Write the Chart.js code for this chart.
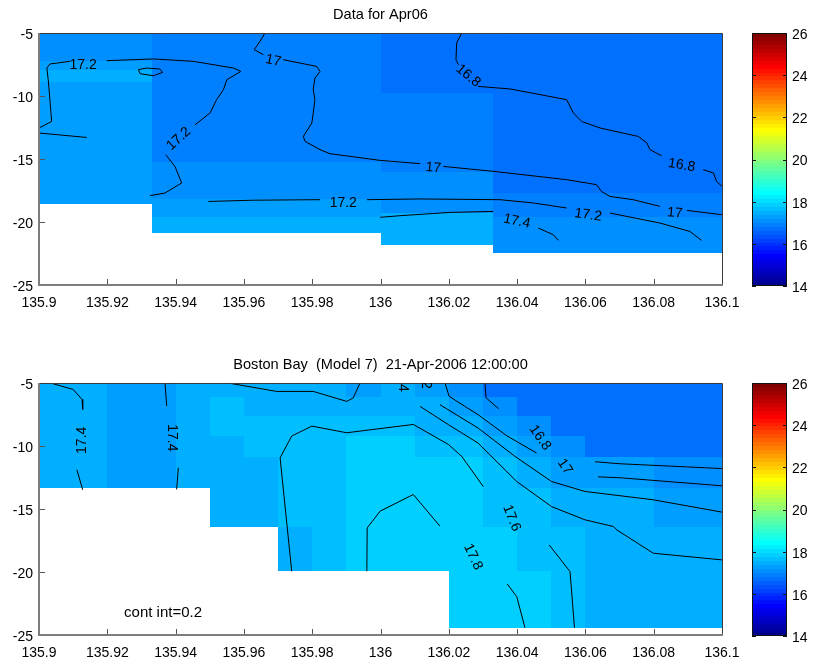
<!DOCTYPE html>
<html><head><meta charset="utf-8">
<script src="https://cdn.jsdelivr.net/npm/chart.js@4.4.0/dist/chart.umd.min.js"></script>
<style>
html,body{margin:0;padding:0;background:#fff;}
#wrap{position:relative;width:813px;height:666px;overflow:hidden;background:#fff;}
canvas{position:absolute;}
</style></head><body>
<div id="wrap">
<canvas id="c1" width="813" height="320" style="left:0;top:0"></canvas>
<canvas id="c2" width="813" height="336" style="left:0;top:330px"></canvas>
<canvas id="cb1" width="73" height="320" style="left:740px;top:0"></canvas>
<canvas id="cb2" width="73" height="336" style="left:740px;top:330px"></canvas>
</div>
<script>
// ---------------- DATA ----------------
const title1 = 'Data for Apr06';
const title2 = 'Boston Bay  (Model 7)  21-Apr-2006 12:00:00';
const contourNote = 'cont int=0.2';
const contourNotePos = [135.9249, -23.25];

const lonMin = 135.9, lonMax = 136.1, lonStep = 0.02;
const depthMin = -25, depthMax = -5, depthStep = 5;
const tempMin = 14, tempMax = 26, tempStep = 2, tempLevels = 64;

// Panel 1: observed temperature cells (column edges, per-column depth edges, per-column values)
const obsLonEdges = [135.9, 135.933, 136.0, 136.033, 136.1];
const obsDepthEdges = [
  [-5, -7.2, -7.9, -8.85, -18.55],
  [-5, -15.2, -18.2, -19.6, -20.85],
  [-5, -9.75, -16.0, -19.25, -21.8],
  [-5, -17.7, -19.6, -22.45]
];
const obsTemps = [
  [17.1, 17.3, 17.45, 17.3],
  [16.95, 17.05, 17.25, 17.45],
  [16.75, 16.95, 17.1, 17.45],
  [16.75, 16.95, 17.1]
];

// Panel 1 contour segments [lon, depth]
const obsContours = [
  [[135.9,-12.54],[135.9037,-12.02],[135.9032,-10.29],[135.9027,-8.71],[135.9023,-7.78],[135.9032,-7.46],[135.9091,-7.25]],
  [[135.9198,-7.20],[135.9335,-7.06],[135.9452,-7.25],[135.9569,-7.78],[135.9591,-8.05],[135.955,-8.71],[135.954,-9.5],[135.952,-10.29],[135.9501,-11.35],[135.9457,-12.28]],
  [[135.9371,-14.66],[135.9398,-15.59],[135.9418,-16.90],[135.9369,-17.70],[135.9325,-17.91]],
  [[135.9496,-18.37],[135.9628,-18.27],[135.9823,-18.23]],
  [[135.996,-18.23],[136.0117,-18.17],[136.035,-18.23],[136.0448,-18.49],[136.0545,-18.89]],
  [[136.0672,-19.29],[136.0818,-20.08],[136.0906,-20.75],[136.094,-21.46]],
  [[135.9291,-7.91],[135.9315,-7.78],[135.9354,-7.86],[135.9362,-8.13],[135.9335,-8.39],[135.9296,-8.23],[135.9291,-7.91]],
  [[135.9,-12.94],[135.914,-13.29]],
  [[135.9662,-5],[135.9647,-5.67],[135.963,-6.33],[135.9657,-6.72]],
  [[135.9715,-7.12],[135.9813,-7.65],[135.9823,-8.05],[135.9808,-8.57],[135.9803,-9.5],[135.9808,-10.29],[135.9803,-11.35],[135.9799,-12.14],[135.9774,-13.21],[135.9779,-13.6],[135.9823,-14.26],[135.9852,-14.58],[135.9999,-15.11],[136.0116,-15.37]],
  [[136.0184,-15.59],[136.033,-15.98],[136.0545,-16.64],[136.0633,-17.04],[136.0647,-17.57],[136.0672,-17.97],[136.074,-18.23],[136.0818,-18.76]],
  [[136.0897,-19.08],[136.1,-19.42]],
  [[136.0238,-5],[136.0223,-5.79],[136.0221,-7.12],[136.0228,-7.52]],
  [[136.0286,-9.24],[136.0379,-9.44],[136.0545,-10.29],[136.0565,-11.35],[136.0589,-12.02],[136.0643,-12.54],[136.0755,-13.21],[136.078,-13.73],[136.0789,-14.26],[136.0823,-14.74]],
  [[136.0945,-15.85],[136.0975,-16.11],[136.0984,-16.78],[136.1,-17.17]],
  [[135.9999,-19.63],[136.0057,-19.50],[136.0204,-19.24],[136.033,-19.16]],
  [[136.0462,-20.48],[136.0506,-21.01],[136.0521,-21.46]]
];
const obsLabelText = ['17.2','17.2','17.2','17.2','17','17','17','16.8','16.8','17.4'];
const obsLabelPos  = [[135.9129,-7.52],[135.9409,-13.39],[135.9891,-18.47],[136.0608,-19.45],[135.9686,-7.20],[136.0155,-15.71],[136.0862,-19.29],[136.0257,-8.39],[136.0882,-15.50],[136.0399,-19.95]];
const obsLabelAngle = [0,-42,0,8,12,5,5,40,10,12];

// Panel 2: model temperature grid
const modelLonEdges = [135.9,135.91,135.92,135.93,135.94,135.95,135.96,135.97,135.98,135.99,136.0,136.01,136.02,136.03,136.04,136.05,136.06,136.07,136.08,136.09,136.1];
const modelDepthEdges = [-5, -6.1, -7.6, -9.2, -10.9, -13.3, -16.4, -19.95, -24.45];
const modelTemps = [
  [17.45,17.45,17.3,17.3,17.45,17.45,17.45,17.45,17.45,17.3,17.45,17.3,17.1,16.7,16.7,16.7,16.7,16.7,16.7,16.7],
  [17.45,17.45,17.3,17.3,17.45,17.65,17.45,17.45,17.45,17.45,17.45,17.45,17.3,17.1,16.7,16.7,16.7,16.7,16.7,16.7],
  [17.45,17.45,17.3,17.3,17.45,17.65,17.65,17.65,17.65,17.65,17.65,17.45,17.45,17.3,17.1,16.7,16.7,16.7,16.7,16.7],
  [17.45,17.45,17.3,17.3,17.45,17.45,17.65,17.65,17.65,17.85,17.85,17.65,17.65,17.45,17.3,17.1,16.7,16.7,16.7,16.7],
  [17.45,17.45,17.3,17.3,17.45,17.45,17.45,17.65,17.65,17.85,17.85,17.85,17.85,17.65,17.45,17.3,17.3,17.3,17.1,17.1],
  [null,null,null,null,null,17.45,17.45,17.65,17.65,17.85,17.85,17.85,17.85,17.65,17.65,17.45,17.45,17.45,17.3,17.3],
  [null,null,null,null,null,null,null,17.45,17.65,17.85,17.85,17.85,17.85,17.85,17.65,17.65,17.45,17.45,17.45,17.45],
  [null,null,null,null,null,null,null,null,null,null,null,null,17.85,17.85,17.85,17.65,17.45,17.45,17.45,17.45]
];

// Panel 2 contour segments [lon, depth]
const modelContours = [
  [[135.9041,-5.06],[135.91,-5.51],[135.9126,-6.30],[135.9128,-7.10]],
  [[135.9111,-11.89],[135.9128,-13.48]],
  [[135.9369,-5.0],[135.9374,-6.83]],
  [[135.9408,-11.73],[135.9403,-13.45]],
  [[135.9554,-5],[135.9696,-5.67],[135.9803,-5.67],[135.9901,-6.46],[135.992,-6.19],[135.994,-5]],
  [[135.974,-19.94],[135.9706,-10.94],[135.974,-9.21],[135.9799,-8.42],[135.9901,-8.95],[136.0096,-8.29],[136.0199,-9.88],[136.0238,-10.83],[136.0301,-13.22]],
  [[136.0494,-17.85],[136.0555,-19.97],[136.0568,-24.42]],
  [[135.996,-19.94],[135.9961,-16.5],[135.9999,-15.17],[136.0096,-13.85],[136.0174,-16.36]],
  [[136.0371,-20.95],[136.0399,-21.96],[136.0423,-24.42]],
  [[136.0116,-6.86],[136.0199,-8.31],[136.0286,-9.77],[136.0399,-12.82],[136.0501,-14.81],[136.0599,-15.86],[136.0682,-16.39],[136.0692,-16.66],[136.0799,-18.51],[136.1,-19.04]],
  [[136.0174,-6.72],[136.0286,-8.58],[136.0394,-10.83],[136.0501,-12.82],[136.0599,-13.61],[136.0799,-14.27],[136.1,-15.25]],
  [[136.0189,-5],[136.0201,-6.06],[136.0286,-7.52],[136.037,-9.19],[136.0457,-10.56]],
  [[136.0637,-12.45],[136.0701,-12.52],[136.1,-13.16]],
  [[136.0306,-5],[136.0309,-6.17],[136.0346,-7.04]],
  [[136.0628,-11.25],[136.0701,-11.41],[136.1,-11.79]]
];
const modelLabelText = ['17.4','17.4','16.8','17','17.6','17.8','17.4','17.2'];
const modelLabelPos  = [[135.9126,-9.55],[135.9389,-9.35],[136.0467,-9.35],[136.054,-11.65],[136.0384,-15.73],[136.0271,-18.8],[136.0066,-4.62],[136.0133,-4.38]];
const modelLabelAngle = [-90,90,55,55,68,65,90,90];

// ---------------- RENDERING ----------------
const FONT = '"Liberation Sans", Arial, Helvetica, sans-serif';
Chart.defaults.font.family = FONT;
Chart.defaults.color = '#000';

function u(i){ if(i<1||i>47) return 0; if(i<=16) return i/16; if(i<=31) return 1; return (48-i)/16; }
function jetRow(k){ return [u(k-24), u(k-8), u(k+8)]; }
function rgb(c){ return 'rgb('+Math.round(c[0]*255)+','+Math.round(c[1]*255)+','+Math.round(c[2]*255)+')'; }
function colorFor(v){
  let k = Math.floor((v-tempMin)/(tempMax-tempMin)*tempLevels)+1;
  k = Math.max(1, Math.min(tempLevels, k));
  return rgb(jetRow(k));
}

function buildObsCells(){
  const out=[];
  obsTemps.forEach((col,i)=>col.forEach((t,j)=>{
    out.push({x0:obsLonEdges[i],x1:obsLonEdges[i+1],y0:obsDepthEdges[i][j],y1:obsDepthEdges[i][j+1],v:t});
  }));
  return out;
}
function buildModelCells(){
  const out=[];
  modelTemps.forEach((row,j)=>row.forEach((t,i)=>{
    if(t===null) return;
    out.push({x0:modelLonEdges[i],x1:modelLonEdges[i+1],y0:modelDepthEdges[j],y1:modelDepthEdges[j+1],v:t});
  }));
  return out;
}

function heatPlugin(cells){
  return { id:'heat', beforeDatasetsDraw(chart){
    const {ctx, chartArea:a, scales:{x,y}} = chart;
    ctx.save(); ctx.beginPath(); ctx.rect(a.left,a.top,a.right-a.left,a.bottom-a.top); ctx.clip();
    for(const c of cells){
      const px0=Math.round(x.getPixelForValue(c.x0)), px1=Math.round(x.getPixelForValue(c.x1));
      const py0=Math.round(y.getPixelForValue(c.y0)), py1=Math.round(y.getPixelForValue(c.y1));
      ctx.fillStyle=colorFor(c.v);
      ctx.fillRect(Math.min(px0,px1),Math.min(py0,py1),Math.abs(px1-px0),Math.abs(py1-py0));
    }
    ctx.restore();
  }};
}

function labelPlugin(texts, pos, angles, note){
  return { id:'clabels', afterDatasetsDraw(chart){
    const {ctx, chartArea:a, scales:{x,y}} = chart;
    ctx.save(); ctx.beginPath(); ctx.rect(a.left,a.top,a.right-a.left,a.bottom-a.top); ctx.clip();
    ctx.fillStyle='#000'; ctx.font='14px '+FONT; ctx.textAlign='center'; ctx.textBaseline='middle';
    texts.forEach((t,i)=>{
      ctx.save();
      ctx.translate(x.getPixelForValue(pos[i][0]), y.getPixelForValue(pos[i][1]));
      ctx.rotate(angles[i]*Math.PI/180);
      ctx.fillText(t,0,0);
      ctx.restore();
    });
    if(note){
      ctx.textAlign='left'; ctx.font='15px '+FONT;
      ctx.fillText(note.text, x.getPixelForValue(note.pos[0]), y.getPixelForValue(note.pos[1]));
    }
    ctx.restore();
  }};
}

const framePlugin = { id:'frame', afterDatasetsDraw(chart){
  const {ctx, chartArea:a, scales:{x,y}} = chart;
  ctx.save();
  ctx.strokeStyle='#555'; ctx.lineWidth=1; ctx.beginPath();
  x.ticks.forEach(t=>{ const px=Math.round(x.getPixelForValue(t.value))+0.5; ctx.moveTo(px,a.bottom); ctx.lineTo(px,a.bottom-6); });
  y.ticks.forEach(t=>{ const py=Math.round(y.getPixelForValue(t.value))+0.5; ctx.moveTo(a.left,py); ctx.lineTo(a.left+6,py); });
  ctx.stroke();
  ctx.strokeStyle='#3a3a3a'; ctx.lineWidth=1; ctx.beginPath();
  ctx.moveTo(a.left,a.top+0.5); ctx.lineTo(a.right+0.5,a.top+0.5); ctx.lineTo(a.right+0.5,a.bottom);
  ctx.stroke();
  ctx.strokeStyle='#7d7d7d'; ctx.lineWidth=2; ctx.beginPath();
  ctx.moveTo(a.left,a.top); ctx.lineTo(a.left,a.bottom); ctx.lineTo(a.right+1,a.bottom);
  ctx.stroke();
  ctx.restore();
}};

function mainChart(id, title, titlePad, xAxisH, cells, contours, lt, lp, la, note){
  return new Chart(document.getElementById(id), {
    type:'scatter',
    data:{ datasets: contours.map(seg=>({
      data: seg.map(p=>({x:p[0], y:p[1]})),
      showLine:true, borderColor:'#000', borderWidth:1, pointRadius:0, fill:false, tension:0
    }))},
    options:{
      responsive:false, animation:false, devicePixelRatio:1, events:[],
      layout:{padding:{left:0,right:91,top:0,bottom:0}},
      plugins:{
        legend:{display:false}, tooltip:{enabled:false},
        title:{display:true, text:title, fullSize:false, color:'#000', font:{size:14.6, weight:'normal', family:FONT, lineHeight:1.15}, padding:titlePad}
      },
      scales:{
        x:{type:'linear', min:lonMin, max:lonMax,
           afterFit(s){ s.height = xAxisH; },
           grid:{display:false, drawTicks:false}, border:{display:false},
           ticks:{stepSize:lonStep, autoSkip:false, maxRotation:0, padding:10, color:'#000', font:{size:14, family:FONT},
                  callback:(v)=>String(parseFloat(Number(v).toFixed(3)))}},
        y:{type:'linear', min:depthMin, max:depthMax,
           afterFit(s){ s.width = 39; },
           grid:{display:false, drawTicks:false}, border:{display:false},
           ticks:{stepSize:depthStep, padding:6, labelOffset:2, color:'#000', font:{size:14, family:FONT},
                  callback:(v)=>String(v)}}
      }
    },
    plugins:[heatPlugin(cells), framePlugin, labelPlugin(lt, lp, la, note)]
  });
}

const cbarPlugin = { id:'cbar', beforeDatasetsDraw(chart){
  const {ctx, chartArea:a, scales:{y}} = chart;
  ctx.save();
  const step=(tempMax-tempMin)/tempLevels;
  for(let k=1;k<=tempLevels;k++){
    const p0=Math.round(y.getPixelForValue(tempMin+(k-1)*step)), p1=Math.round(y.getPixelForValue(tempMin+k*step));
    ctx.fillStyle=rgb(jetRow(k));
    ctx.fillRect(a.left, p1, a.right-a.left, p0-p1);
  }
  ctx.strokeStyle='#111'; ctx.lineWidth=1; ctx.beginPath();
  y.ticks.forEach(t=>{ const py=Math.round(y.getPixelForValue(t.value))+0.5;
    ctx.moveTo(a.left,py); ctx.lineTo(a.left+4,py); ctx.moveTo(a.right,py); ctx.lineTo(a.right-4,py); });
  ctx.stroke();
  ctx.strokeStyle='#111'; ctx.lineWidth=1;
  ctx.strokeRect(a.left+0.5, a.top+0.5, a.right-a.left-1, a.bottom-a.top-1);
  ctx.restore();
}};

function cbarChart(id, padTop, padBottom){
  return new Chart(document.getElementById(id), {
    type:'scatter', data:{datasets:[]},
    options:{
      responsive:false, animation:false, devicePixelRatio:1, events:[],
      layout:{padding:{left:12,right:0,top:padTop,bottom:padBottom}},
      plugins:{legend:{display:false}, tooltip:{enabled:false}, title:{display:false}},
      scales:{
        x:{display:false, min:0, max:1},
        y:{type:'linear', position:'right', min:tempMin, max:tempMax,
           afterFit(s){ s.width = 26; },
           grid:{display:false, drawTicks:false}, border:{display:false},
           ticks:{stepSize:tempStep, padding:5, labelOffset:2, color:'#000', font:{size:14, family:FONT}}}
      }
    },
    plugins:[cbarPlugin]
  });
}

// title heights: 14.6*1.15 = 16.79
mainChart('c1', title1, {top:7, bottom:9.2}, 35, buildObsCells(), obsContours, obsLabelText, obsLabelPos, obsLabelAngle, null);
mainChart('c2', title2, {top:26.1, bottom:10.1}, 31, buildModelCells(), modelContours, modelLabelText, modelLabelPos, modelLabelAngle, {text:contourNote, pos:contourNotePos});
cbarChart('cb1', 33, 34);
cbarChart('cb2', 53, 30);
</script>
</body></html>
